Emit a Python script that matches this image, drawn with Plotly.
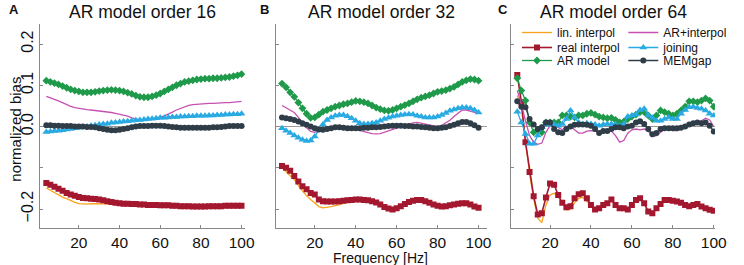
import plotly.graph_objects as go

freq = list(range(4, 101, 2))

panel_titles = ["AR model order 16", "AR model order 32", "AR model order 64"]
panel_letters = ["A", "B", "C"]

series_names = ["lin. interpol", "real interpol", "AR model", "AR+interpol", "joining", "MEMgap"]

# ---------- Panel A (order 16) ----------
a_lin = [-0.149, -0.155, -0.161, -0.166, -0.171, -0.175, -0.180, -0.184, -0.187, -0.188,
         -0.188, -0.187, -0.187, -0.187, -0.187, -0.187, -0.188, -0.188, -0.188, -0.187,
         -0.187, -0.188, -0.188, -0.189, -0.189, -0.190, -0.190, -0.190, -0.191, -0.191,
         -0.191, -0.192, -0.192, -0.193, -0.193, -0.193, -0.194, -0.194, -0.194, -0.194,
         -0.193, -0.193, -0.193, -0.193, -0.192, -0.192, -0.192, -0.192, -0.192]
a_real = [-0.137, -0.141, -0.146, -0.151, -0.156, -0.161, -0.165, -0.168, -0.171, -0.173,
          -0.174, -0.175, -0.176, -0.177, -0.179, -0.181, -0.183, -0.185, -0.186, -0.187,
          -0.187, -0.188, -0.188, -0.189, -0.189, -0.190, -0.190, -0.190, -0.191, -0.191,
          -0.191, -0.192, -0.192, -0.193, -0.193, -0.193, -0.194, -0.194, -0.194, -0.194,
          -0.193, -0.193, -0.193, -0.193, -0.192, -0.192, -0.192, -0.192, -0.192]
a_ar = [0.111, 0.108, 0.105, 0.102, 0.098, 0.094, 0.090, 0.087, 0.085, 0.083,
        0.083, 0.083, 0.084, 0.086, 0.087, 0.088, 0.089, 0.088, 0.087, 0.085,
        0.082, 0.079, 0.075, 0.072, 0.071, 0.071, 0.073, 0.076, 0.080, 0.085,
        0.090, 0.095, 0.100, 0.104, 0.108, 0.110, 0.112, 0.114, 0.115, 0.116,
        0.116, 0.117, 0.117, 0.118, 0.119, 0.120, 0.122, 0.124, 0.127]
a_arint = [0.073, 0.070, 0.066, 0.062, 0.057, 0.053, 0.049, 0.046, 0.044, 0.042,
           0.041, 0.040, 0.039, 0.038, 0.037, 0.035, 0.034, 0.032, 0.030, 0.028,
           0.025, 0.021, 0.018, 0.016, 0.016, 0.016, 0.018, 0.020, 0.023, 0.026,
           0.030, 0.035, 0.040, 0.044, 0.048, 0.051, 0.053, 0.054, 0.055, 0.055,
           0.056, 0.056, 0.057, 0.057, 0.058, 0.058, 0.059, 0.060, 0.061]
a_join = [-0.013, -0.012, -0.011, -0.010, -0.009, -0.007, -0.006, -0.004, -0.003, -0.002,
          0.000, 0.002, 0.003, 0.005, 0.006, 0.007, 0.009, 0.010, 0.011, 0.012,
          0.013, 0.014, 0.015, 0.016, 0.017, 0.018, 0.019, 0.020, 0.021, 0.021,
          0.022, 0.023, 0.023, 0.024, 0.024, 0.025, 0.025, 0.026, 0.026, 0.026,
          0.027, 0.027, 0.028, 0.028, 0.029, 0.029, 0.030, 0.030, 0.031]
a_mem = [0.003, 0.003, 0.002, 0.002, 0.001, 0.001, 0.001, 0.000, 0.000, 0.000,
         -0.001, -0.001, -0.002, -0.004, -0.006, -0.008, -0.009, -0.009, -0.008, -0.006,
         -0.004, -0.002, 0.000, 0.001, 0.001, 0.001, 0.002, 0.002, 0.002, 0.001,
         0.000, -0.001, -0.002, -0.003, -0.003, -0.003, -0.003, -0.003, -0.003, -0.003,
         -0.003, -0.002, -0.002, -0.001, 0.000, 0.001, 0.001, 0.001, 0.001]

# ---------- Panel B (order 32) ----------
b_lin = [-0.100, -0.110, -0.120, -0.129, -0.143, -0.157, -0.168, -0.177, -0.185, -0.194,
         -0.197, -0.196, -0.194, -0.192, -0.190, -0.186, -0.181, -0.178, -0.177, -0.177,
         -0.178, -0.179, -0.181, -0.184, -0.189, -0.195, -0.199, -0.201, -0.198, -0.193,
         -0.188, -0.183, -0.180, -0.178, -0.178, -0.181, -0.185, -0.189, -0.192, -0.194,
         -0.193, -0.191, -0.189, -0.187, -0.186, -0.186, -0.189, -0.194, -0.197]
b_real = [-0.096, -0.100, -0.107, -0.120, -0.133, -0.145, -0.152, -0.161, -0.165, -0.177,
          -0.181, -0.182, -0.182, -0.182, -0.181, -0.180, -0.179, -0.178, -0.177, -0.177,
          -0.178, -0.179, -0.181, -0.184, -0.189, -0.195, -0.199, -0.201, -0.198, -0.193,
          -0.188, -0.183, -0.180, -0.178, -0.178, -0.181, -0.185, -0.189, -0.192, -0.194,
          -0.193, -0.191, -0.189, -0.187, -0.186, -0.186, -0.189, -0.194, -0.197]
b_ar = [0.104, 0.095, 0.083, 0.072, 0.058, 0.044, 0.031, 0.021, 0.022, 0.029,
        0.036, 0.040, 0.044, 0.048, 0.051, 0.054, 0.056, 0.059, 0.062, 0.061,
        0.059, 0.056, 0.051, 0.046, 0.042, 0.039, 0.038, 0.040, 0.044, 0.048,
        0.052, 0.056, 0.061, 0.066, 0.070, 0.073, 0.076, 0.080, 0.084, 0.086,
        0.088, 0.092, 0.096, 0.102, 0.108, 0.112, 0.115, 0.114, 0.111]
b_arint = [0.051, 0.045, 0.040, 0.034, 0.022, 0.008, -0.003, -0.012, -0.014, -0.012,
           -0.008, -0.004, -0.002, 0.000, 0.000, -0.001, -0.002, -0.004, -0.007, -0.010,
           -0.012, -0.015, -0.017, -0.018, -0.017, -0.014, -0.010, -0.007, -0.004, 0.000,
           0.003, 0.006, 0.009, 0.010, 0.008, 0.006, 0.003, 0.001, 0.000, 0.003,
           0.008, 0.015, 0.024, 0.032, 0.040, 0.040, 0.037, 0.034, 0.032]
b_join = [-0.004, -0.010, -0.016, -0.022, -0.027, -0.032, -0.035, -0.034, -0.024, -0.008,
          0.005, 0.016, 0.022, 0.026, 0.028, 0.028, 0.025, 0.020, 0.014, 0.008,
          0.006, 0.006, 0.008, 0.010, 0.014, 0.018, 0.021, 0.024, 0.026, 0.028,
          0.029, 0.030, 0.029, 0.026, 0.024, 0.022, 0.022, 0.022, 0.024, 0.028,
          0.033, 0.038, 0.041, 0.044, 0.046, 0.046, 0.044, 0.040, 0.034]
b_mem = [0.022, 0.020, 0.018, 0.016, 0.012, 0.008, 0.004, 0.000, -0.004, -0.007,
         -0.008, -0.006, -0.004, -0.002, -0.002, -0.003, -0.004, -0.004, -0.004, -0.004,
         -0.003, -0.003, -0.002, -0.002, -0.001, 0.000, 0.001, 0.002, 0.002, 0.002,
         0.001, 0.001, 0.000, 0.000, -0.001, -0.002, -0.003, -0.004, -0.004, -0.003,
         -0.002, 0.001, 0.004, 0.008, 0.011, 0.011, 0.008, 0.003, -0.003]

# ---------- Panel C (order 64) ----------
c_lin = [0.075, 0.047, -0.034, -0.114, -0.174, -0.222, -0.233, -0.190, -0.166, -0.162,
         -0.170, -0.186, -0.202, -0.201, -0.185, -0.174, -0.172, -0.182, -0.190, -0.201,
         -0.198, -0.190, -0.186, -0.177, -0.190, -0.198, -0.198, -0.201, -0.190, -0.178,
         -0.174, -0.186, -0.206, -0.210, -0.198, -0.188, -0.178, -0.178, -0.180, -0.182,
         -0.185, -0.190, -0.193, -0.190, -0.188, -0.194, -0.198, -0.202, -0.204]
c_real = [0.125, 0.059, -0.038, -0.110, -0.169, -0.213, -0.210, -0.172, -0.138, -0.141,
          -0.166, -0.185, -0.196, -0.193, -0.174, -0.164, -0.162, -0.174, -0.190, -0.201,
          -0.198, -0.190, -0.186, -0.177, -0.190, -0.198, -0.198, -0.201, -0.190, -0.178,
          -0.174, -0.186, -0.206, -0.210, -0.198, -0.188, -0.178, -0.178, -0.180, -0.182,
          -0.185, -0.190, -0.193, -0.190, -0.188, -0.194, -0.198, -0.202, -0.204]
c_ar = [0.117, 0.087, 0.063, 0.010, -0.014, -0.010, -0.014, 0.010, 0.010, 0.010,
        0.010, 0.027, 0.027, 0.024, 0.022, 0.027, 0.027, 0.031, 0.033, 0.029,
        0.024, 0.022, 0.020, 0.021, 0.016, 0.010, 0.012, 0.018, 0.024, 0.029,
        0.035, 0.035, 0.027, 0.018, 0.027, 0.039, 0.035, 0.031, 0.027, 0.031,
        0.039, 0.048, 0.061, 0.061, 0.059, 0.063, 0.068, 0.063, 0.048]
c_arint = [0.087, 0.055, 0.014, -0.022, -0.038, -0.043, -0.040, -0.014, 0.002, 0.002,
           -0.002, -0.008, 0.000, 0.002, -0.008, -0.016, -0.016, -0.011, -0.010, -0.011,
           -0.014, -0.016, -0.010, -0.011, -0.022, -0.038, -0.034, -0.016, -0.008, -0.006,
           -0.008, -0.006, -0.011, -0.024, -0.022, -0.014, -0.006, -0.006, -0.010, -0.010,
           -0.006, 0.000, 0.002, 0.008, 0.010, 0.014, 0.020, 0.016, 0.000]
c_join = [0.036, 0.010, -0.018, -0.042, -0.042, -0.022, -0.002, 0.005, 0.005, 0.005,
          0.002, 0.006, 0.018, 0.039, 0.022, 0.010, 0.005, 0.008, 0.006, 0.005,
          0.002, 0.005, 0.006, 0.006, 0.005, 0.002, 0.006, 0.024, 0.027, 0.029,
          0.040, 0.043, 0.027, 0.021, 0.014, 0.014, 0.018, 0.022, 0.018, 0.018,
          0.031, 0.040, 0.047, 0.048, 0.045, 0.043, 0.039, 0.031, 0.027]
c_mem = [0.061, 0.048, 0.047, 0.018, 0.005, -0.006, -0.002, 0.010, 0.010, -0.006,
         -0.014, -0.016, -0.006, 0.000, 0.004, 0.005, 0.005, 0.004, 0.002, -0.006,
         -0.016, -0.011, -0.011, -0.006, -0.002, -0.002, -0.004, 0.000, 0.002, 0.010,
         0.013, 0.006, -0.006, -0.019, -0.016, -0.006, -0.004, -0.004, -0.004, -0.004,
         -0.003, 0.000, 0.005, 0.008, 0.010, 0.008, 0.010, 0.002, -0.012]

y_tickvals = [-0.2, -0.1, 0.0, 0.1, 0.2]
y_ticktext = ["\u22120.2", "", "0.0", "0.1", "0.2"]
x_tickvals = [20, 40, 60, 80, 100]

panels = [
    [a_lin, a_real, a_ar, a_arint, a_join, a_mem],
    [b_lin, b_real, b_ar, b_arint, b_join, b_mem],
    [c_lin, c_real, c_ar, c_arint, c_join, c_mem],
]

styles = [
    dict(color="#f8a31b", mode="lines", width=1.3, symbol=None, size=0),
    dict(color="#a4182f", mode="lines+markers", width=1.6, symbol="square", size=6),
    dict(color="#1f9a4a", mode="lines+markers", width=1.3, symbol="diamond", size=6),
    dict(color="#c552b3", mode="lines", width=1.3, symbol=None, size=0),
    dict(color="#2aaae2", mode="lines+markers", width=1.3, symbol="triangle-up", size=7),
    dict(color="#2f3d48", mode="lines+markers", width=1.3, symbol="circle", size=6),
]

FONT = "Liberation Sans, Arial, Helvetica, sans-serif"
W, H = 744, 265
ML, MR, MT, MB = 40, 12, 24, 37
PW = W - ML - MR
PH = H - MT - MB

def px_x(p):
    return (p - ML) / PW

def px_y(p):
    return 1 - (p - MT) / PH

panel_px = [(40, 250), (282, 498), (523, 732)]
x_ranges = [[0.9, 101.6], [1.1, 104.0], [1.0, 100.6]]

# one single-entry legend per legend row/column of panel C
legend_ids = ["legend", "legend2", "legend3", "legend4", "legend5", "legend6"]
legend_left = [529, 529, 529, 638, 638, 638]
legend_top = [18, 33, 46, 18, 33, 46]

fig = go.Figure()
for i, data in enumerate(panels):
    suffix = "" if i == 0 else str(i + 1)
    for k, (name, vals, st) in enumerate(zip(series_names, data, styles)):
        kw = dict(
            x=freq, y=vals, name=name, mode=st["mode"],
            xaxis="x" + suffix, yaxis="y" + suffix,
            line=dict(color=st["color"], width=st["width"]),
            showlegend=(i == 2), legend=legend_ids[k],
        )
        if st["symbol"]:
            kw["marker"] = dict(symbol=st["symbol"], size=st["size"], color=st["color"])
        fig.add_trace(go.Scatter(**kw))

layout = dict(
    width=W, height=H,
    margin=dict(l=ML, r=MR, t=MT, b=MB),
    paper_bgcolor="white", plot_bgcolor="white",
    font=dict(family=FONT, size=14, color="#111"),
    annotations=[],
)
for k, lid in enumerate(legend_ids):
    layout[lid] = dict(x=px_x(legend_left[k]), y=px_y(legend_top[k]),
                       xanchor="left", yanchor="top", bgcolor="rgba(0,0,0,0)",
                       font=dict(size=12, family=FONT, color="#111"))

for i in range(3):
    suffix = "" if i == 0 else str(i + 1)
    x0, x1 = panel_px[i]
    layout["xaxis" + suffix] = dict(
        domain=[px_x(x0), px_x(x1)], anchor="y" + suffix, range=x_ranges[i],
        tickvals=x_tickvals, ticks="inside", ticklen=3, tickcolor="#888",
        showline=True, linecolor="#888", linewidth=1, showgrid=False, zeroline=False,
        tickfont=dict(size=15.5, family=FONT, color="#111"),
    )
    layout["yaxis" + suffix] = dict(
        domain=[0, 1], anchor="x" + suffix, range=[-0.246, 0.2485],
        tickvals=y_tickvals, ticktext=y_ticktext, ticks="inside", ticklen=3, tickcolor="#888",
        showticklabels=(i == 0), tickangle=-90,
        showline=True, linecolor="#888", linewidth=1, showgrid=False,
        zeroline=True, zerolinecolor="#999", zerolinewidth=1,
        tickfont=dict(size=16, family=FONT, color="#111"),
    )
    layout["annotations"].append(dict(
        text=panel_titles[i], xref="paper", yref="paper",
        x=px_x((x0 + x1) / 2), y=px_y(12), xanchor="center", yanchor="middle",
        showarrow=False, font=dict(size=17.5, family=FONT, color="#111")))
    layout["annotations"].append(dict(
        text="<b>" + panel_letters[i] + "</b>", xref="paper", yref="paper",
        x=px_x([13, 270, 515][i]), y=px_y(9), xanchor="center", yanchor="middle",
        showarrow=False, font=dict(size=13, family=FONT, color="#111")))

layout["annotations"].append(dict(
    text="Frequency [Hz]", xref="paper", yref="paper",
    x=px_x(389), y=px_y(257.5), xanchor="center", yanchor="middle",
    showarrow=False, font=dict(size=14, family=FONT, color="#111")))
layout["annotations"].append(dict(
    text="normalized bias", xref="paper", yref="paper", textangle=-90,
    x=px_x(14), y=px_y(129), xanchor="center", yanchor="middle",
    showarrow=False, font=dict(size=15, family=FONT, color="#111")))

fig.update_layout(**layout)
fig.write_html("out.html", config={"displayModeBar": False},
               post_script="document.body.style.margin='0';document.body.style.padding='0';")
